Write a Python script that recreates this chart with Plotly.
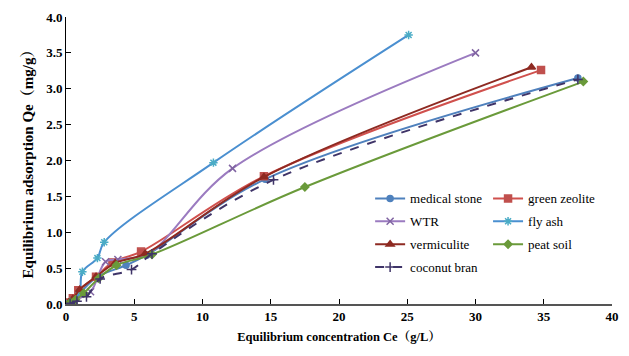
import plotly.graph_objects as go

# ---- data ----
names = ["medical stone", "green zeolite", "WTR", "fly ash", "vermiculite", "peat soil", "coconut bran"]

medical_x = [0.1, 0.4, 1.0, 2.3, 4.4, 5.9, 14.6, 37.5]
medical_y = [0.01, 0.04, 0.15, 0.38, 0.54, 0.68, 1.74, 3.15]

zeolite_x = [0.2, 0.5, 0.9, 2.2, 3.4, 5.5, 14.5, 34.8]
zeolite_y = [0.02, 0.08, 0.19, 0.38, 0.58, 0.73, 1.78, 3.26]

wtr_x = [0.2, 0.6, 1.8, 2.9, 3.8, 6.0, 12.2, 30.0]
wtr_y = [0.01, 0.05, 0.17, 0.59, 0.62, 0.70, 1.89, 3.50]

flyash_x = [0.2, 0.5, 1.0, 1.2, 2.3, 2.8, 10.8, 25.1]
flyash_y = [0.01, 0.05, 0.17, 0.45, 0.64, 0.86, 1.97, 3.75]

verm_x = [0.2, 0.5, 1.0, 2.2, 3.6, 5.8, 14.5, 34.1]
verm_y = [0.02, 0.07, 0.20, 0.38, 0.57, 0.70, 1.77, 3.30]

peat_x = [0.3, 0.7, 1.3, 2.4, 3.7, 6.3, 17.5, 37.9]
peat_y = [0.02, 0.06, 0.15, 0.36, 0.54, 0.69, 1.63, 3.10]

coco_x = [0.3, 0.8, 1.5, 2.5, 4.8, 6.3, 15.2, 37.5]
coco_y = [0.01, 0.04, 0.10, 0.35, 0.48, 0.70, 1.73, 3.13]

x_ticks = [0, 5, 10, 15, 20, 25, 30, 35, 40]
y_ticks = [0.0, 0.5, 1.0, 1.5, 2.0, 2.5, 3.0, 3.5, 4.0]

FONT = "Liberation Serif, Times New Roman, Noto Serif CJK SC, Noto Sans CJK SC, serif"

# name, x, y, line colour, marker colour, symbol, size, dash, legend
series = [
    (names[0], medical_x, medical_y, "#4F81BD", "#4F81BD", "circle", 6, "solid", "legend"),
    (names[1], zeolite_x, zeolite_y, "#D0504D", "#C0504D", "square", 7, "solid", "legend2"),
    (names[2], wtr_x, wtr_y, "#9B7BC0", "#8064A2", "x-thin-open", 7, "solid", "legend"),
    (names[3], flyash_x, flyash_y, "#4A8FD0", "#4BACC6", "asterisk-open", 7, "solid", "legend2"),
    (names[4], verm_x, verm_y, "#8E2A22", "#8E2A22", "triangle-up", 7, "solid", "legend"),
    (names[5], peat_x, peat_y, "#6A9A3A", "#6A9A3A", "diamond", 6, "solid", "legend2"),
    (names[6], coco_x, coco_y, "#3F3468", "#3F3468", "cross-thin-open", 7, "dash", "legend"),
]

fig = go.Figure()
for i, (name, xs, ys, lc, mc, sym, sz, dash, lg) in enumerate(series):
    fig.add_trace(go.Scatter(
        x=xs, y=ys, name=name, mode="lines+markers", legend=lg, legendgroup=f"g{i}",
        line=dict(color=lc, width=2, shape="spline", smoothing=1.0, dash=dash),
        marker=dict(symbol=sym, size=sz, color=mc, line=dict(color=mc, width=1.5)),
    ))

legend_common = dict(
    orientation="v", xanchor="left", yanchor="top",
    font=dict(family=FONT, size=13, color="black"),
    bgcolor="rgba(0,0,0,0)", itemwidth=30, tracegroupgap=3,
)

fig.update_layout(
    width=629, height=356,
    margin=dict(l=66, r=17, t=17, b=52, autoexpand=False),
    paper_bgcolor="white", plot_bgcolor="white",
    font=dict(family=FONT, color="black", size=12),
    showlegend=True,
    legend=dict(x=0.557, y=0.42, **legend_common),
    legend2=dict(x=0.773, y=0.42, **legend_common),
    xaxis=dict(
        range=[0, 40], tickvals=x_ticks, ticktext=[str(v) for v in x_ticks],
        showgrid=False, zeroline=False, showline=True, linecolor="#555555", linewidth=1.5,
        ticks="inside", ticklen=5, tickcolor="black", automargin=False,
        tickfont=dict(family=FONT, size=13, color="black", weight="bold"),
        title=dict(text="Equilibrium concentration Ce（g/L）", standoff=9,
                   font=dict(family=FONT, size=12.5, color="black", weight="bold")),
    ),
    yaxis=dict(
        range=[0, 4], tickvals=y_ticks, ticktext=[f"{v:.1f}" for v in y_ticks],
        showgrid=False, zeroline=False, showline=True, linecolor="black", linewidth=1,
        ticks="inside", ticklen=5, tickcolor="black", automargin=False,
        tickfont=dict(family=FONT, size=13, color="black", weight="bold"),
        title=dict(text="Equilibrium adsorption Qe（mg/g）", standoff=8,
                   font=dict(family=FONT, size=15, color="black", weight="bold")),
    ),
)

fig.write_html("out.html", config={"displayModeBar": False},
               post_script="document.body.style.margin='0';")
